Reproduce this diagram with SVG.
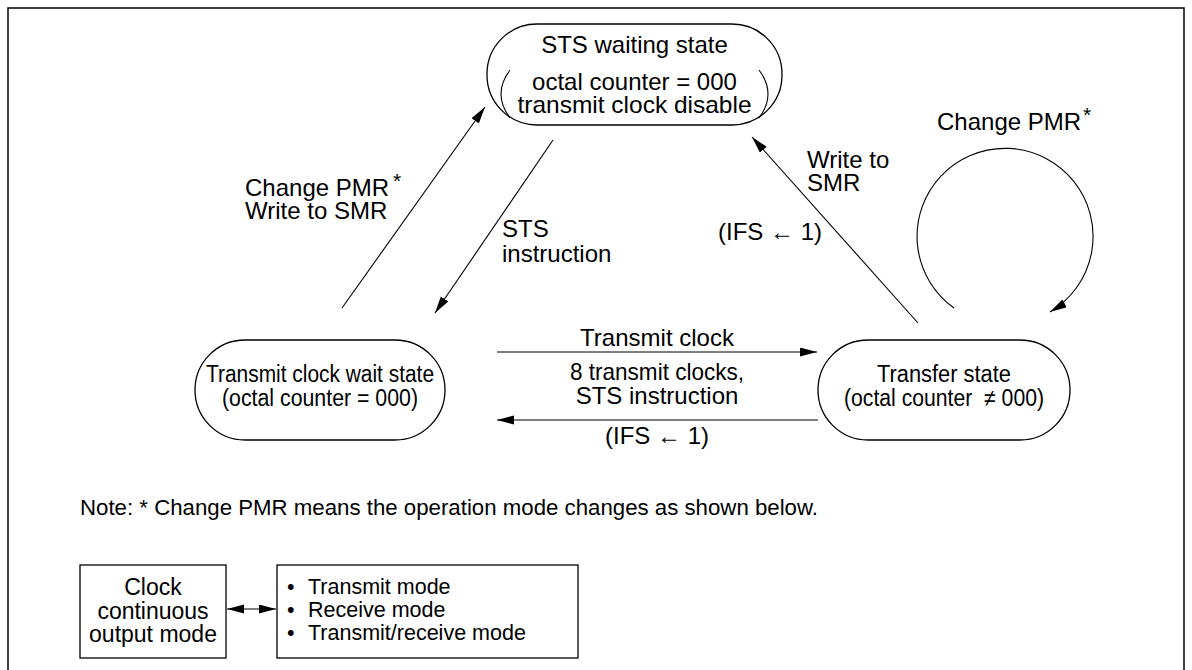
<svg xmlns="http://www.w3.org/2000/svg" width="1192" height="670" viewBox="0 0 1192 670">
<defs>
<marker id="ah" markerUnits="userSpaceOnUse" markerWidth="18" markerHeight="10" refX="17" refY="4.5" orient="auto-start-reverse">
<path d="M0,0 L17,4.5 L0,9 z" fill="#000"/>
</marker>
<style>
text{font-family:"Liberation Sans",Arial,sans-serif;font-size:24px;fill:#000}
.c{text-anchor:middle}
.sm{font-size:22px}
.nd{font-size:23.5px}
.bx{font-size:23px}
.md{font-size:21.5px}
.ast{font-size:21px}
.node{fill:none;stroke:#000;stroke-width:1.3}
.edge{fill:none;stroke:#000;stroke-width:1.1}
</style>
</defs>
<rect width="1192" height="670" fill="#fff"/>
<rect x="8" y="8" width="1176" height="720" fill="none" stroke="#000" stroke-width="1.5"/>

<g id="sts-waiting">
<rect class="node" x="487" y="24" width="295" height="101" rx="50" ry="50"/>
<text class="c" x="634.5" y="53">STS waiting state</text>
<text class="c" x="634.5" y="90">octal counter = 000</text>
<text class="c" x="634.5" y="113" textLength="234" lengthAdjust="spacingAndGlyphs">transmit clock disable</text>
<path class="edge" d="M510,70 Q492,94 510,118"/>
<path class="edge" d="M759,70 Q777,94 759,118"/>
</g>

<g id="tx-clock-wait">
<rect class="node" x="195" y="340" width="250" height="100" rx="50" ry="50"/>
<text class="c nd" x="320" y="382" textLength="228" lengthAdjust="spacingAndGlyphs">Transmit clock wait state</text>
<text class="c nd" x="320" y="406" textLength="196" lengthAdjust="spacingAndGlyphs">(octal counter = 000)</text>
</g>

<g id="transfer">
<rect class="node" x="818" y="340" width="252" height="100" rx="50" ry="50"/>
<text class="c nd" x="944" y="382" textLength="134" lengthAdjust="spacingAndGlyphs">Transfer state</text>
<text class="c nd" x="944" y="406" textLength="200" lengthAdjust="spacingAndGlyphs">(octal counter &#160;≠ 000)</text>
</g>

<g id="connectors">
<path class="edge" d="M497,352 L817,352" marker-end="url(#ah)"/>
<path class="edge" d="M818,420 L497,420" marker-end="url(#ah)"/>
<path class="edge" d="M342,308 L485,107" marker-end="url(#ah)"/>
<path class="edge" d="M553,140 L435,313" marker-end="url(#ah)"/>
<path class="edge" d="M918,323 L752,137" marker-end="url(#ah)"/>
<path class="edge" d="M954,308 A88,88 0 1 1 1050,312" marker-end="url(#ah)"/>
</g>

<g id="labels">
<text class="c" x="657" y="346">Transmit clock</text>
<text class="c" x="657" y="380" textLength="174" lengthAdjust="spacingAndGlyphs">8 transmit clocks,</text>
<text class="c" x="657" y="404">STS instruction</text>
<text class="c" x="657" y="444">(IFS ← 1)</text>
<text x="245" y="196">Change PMR</text>
<text class="ast" x="393" y="188">*</text>
<text x="245" y="219">Write to SMR</text>
<text x="502" y="237">STS</text>
<text x="502" y="262">instruction</text>
<text x="807" y="168">Write to</text>
<text x="807" y="191">SMR</text>
<text x="718" y="240">(IFS ← 1)</text>
<text x="937" y="130">Change PMR</text>
<text class="ast" x="1083" y="122">*</text>
</g>

<g id="note">
<text class="sm" x="80" y="515" textLength="738" lengthAdjust="spacingAndGlyphs">Note: * Change PMR means the operation mode changes as shown below.</text>
</g>

<g id="clock-continuous">
<rect class="node" x="80" y="565" width="146" height="93"/>
<text class="c bx" x="153" y="595">Clock</text>
<text class="c bx" x="153" y="619">continuous</text>
<text class="c bx" x="153" y="642">output mode</text>
</g>

<g id="modes">
<rect class="node" x="277" y="565" width="301" height="93"/>
<text class="md" x="287" y="594">•</text>
<text class="md" x="308" y="594">Transmit mode</text>
<text class="md" x="287" y="617">•</text>
<text class="md" x="308" y="617">Receive mode</text>
<text class="md" x="287" y="640">•</text>
<text class="md" x="308" y="640">Transmit/receive mode</text>
</g>

<g id="mode-connector">
<path class="edge" d="M227,609 L276,609" marker-start="url(#ah)" marker-end="url(#ah)"/>
</g>
</svg>
